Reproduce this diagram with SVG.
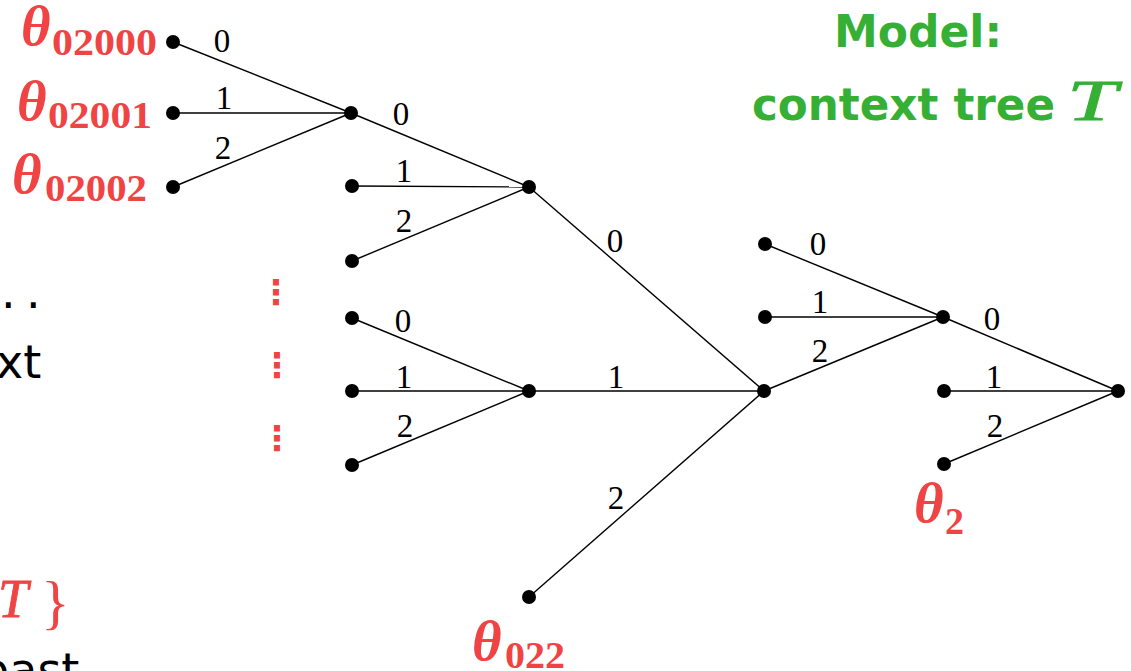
<svg xmlns="http://www.w3.org/2000/svg" width="1131" height="671" viewBox="0 0 1131 671">
<style>
.edge{stroke:#000;stroke-width:1.4;fill:none}
.dot{fill:#000}
.lbl{font-family:"Liberation Serif",serif;font-size:33px;fill:#000;text-anchor:middle}
.th{font-family:"Liberation Serif",serif;font-style:italic;font-weight:bold;font-size:57px;fill:#f04444}
.sub{font-family:"Liberation Serif",serif;font-weight:bold;font-size:38px;fill:#f04444}
.sans{font-family:"DejaVu Sans",sans-serif;font-size:46px;fill:#000}
.green{font-family:"DejaVu Sans",sans-serif;font-weight:bold;font-size:44px;fill:#35b035}
.vd{font-family:"DejaVu Sans",sans-serif;font-weight:bold;font-size:34px;fill:#f04444;text-anchor:middle}
</style>
<rect width="1131" height="671" fill="#fff"/>
<g id="connectors">
<line class="edge" x1="173" y1="42" x2="351" y2="113"/>
<line class="edge" x1="173" y1="113" x2="351" y2="113"/>
<line class="edge" x1="173" y1="187" x2="351" y2="113"/>
<line class="edge" x1="351" y1="113" x2="529" y2="187"/>
<line class="edge" x1="352" y1="186" x2="529" y2="187"/>
<line class="edge" x1="352" y1="261" x2="529" y2="187"/>
<line class="edge" x1="529" y1="187" x2="764" y2="391"/>
<line class="edge" x1="352" y1="318" x2="529" y2="391"/>
<line class="edge" x1="352" y1="391" x2="529" y2="391"/>
<line class="edge" x1="352" y1="465" x2="529" y2="391"/>
<line class="edge" x1="529" y1="391" x2="764" y2="391"/>
<line class="edge" x1="529" y1="597" x2="764" y2="391"/>
<line class="edge" x1="764" y1="391" x2="943" y2="317"/>
<line class="edge" x1="765" y1="244" x2="943" y2="317"/>
<line class="edge" x1="765" y1="317" x2="943" y2="317"/>
<line class="edge" x1="943" y1="317" x2="1118" y2="391"/>
<line class="edge" x1="944" y1="391" x2="1118" y2="391"/>
<line class="edge" x1="944" y1="464" x2="1118" y2="391"/>
<text class="lbl" x="222" y="52">0</text>
<text class="lbl" x="224" y="109">1</text>
<text class="lbl" x="223" y="159">2</text>
<text class="lbl" x="401" y="125">0</text>
<text class="lbl" x="404" y="182">1</text>
<text class="lbl" x="404" y="232">2</text>
<text class="lbl" x="615" y="252">0</text>
<text class="lbl" x="403" y="332">0</text>
<text class="lbl" x="404" y="388">1</text>
<text class="lbl" x="405" y="437">2</text>
<text class="lbl" x="616" y="388">1</text>
<text class="lbl" x="616" y="509">2</text>
<text class="lbl" x="818" y="255">0</text>
<text class="lbl" x="820" y="313">1</text>
<text class="lbl" x="820" y="362">2</text>
<text class="lbl" x="992" y="330">0</text>
<text class="lbl" x="994" y="388">1</text>
<text class="lbl" x="995" y="437">2</text>
</g>
<g id="n02000"><circle class="dot" cx="173" cy="42" r="7"/><text class="th" x="21" y="45">θ</text><text class="sub" x="52" y="55" textLength="105" lengthAdjust="spacingAndGlyphs">02000</text></g>
<g id="n02001"><circle class="dot" cx="173" cy="113" r="7"/><text class="th" x="17" y="120">θ</text><text class="sub" x="48" y="128" textLength="104" lengthAdjust="spacingAndGlyphs">02001</text></g>
<g id="n02002"><circle class="dot" cx="173" cy="187" r="7"/><text class="th" x="12" y="193">θ</text><text class="sub" x="45" y="201" textLength="102" lengthAdjust="spacingAndGlyphs">02002</text></g>
<g id="n0200"><circle class="dot" cx="351" cy="113" r="7"/></g>
<g id="n0201"><circle class="dot" cx="352" cy="186" r="7"/></g>
<g id="n0202"><circle class="dot" cx="352" cy="261" r="7"/></g>
<g id="n020"><circle class="dot" cx="529" cy="187" r="7"/></g>
<g id="n0210"><circle class="dot" cx="352" cy="318" r="7"/></g>
<g id="n0211"><circle class="dot" cx="352" cy="391" r="7"/></g>
<g id="n0212"><circle class="dot" cx="352" cy="465" r="7"/></g>
<g id="n021"><circle class="dot" cx="529" cy="391" r="7"/></g>
<g id="n022"><circle class="dot" cx="529" cy="597" r="7"/><text class="th" x="472" y="660">θ</text><text class="sub" x="505" y="668" textLength="60" lengthAdjust="spacingAndGlyphs">022</text></g>
<g id="n02"><circle class="dot" cx="764" cy="391" r="7"/></g>
<g id="n00"><circle class="dot" cx="765" cy="244" r="7"/></g>
<g id="n01"><circle class="dot" cx="765" cy="317" r="7"/></g>
<g id="n0"><circle class="dot" cx="943" cy="317" r="7"/></g>
<g id="n1"><circle class="dot" cx="944" cy="391" r="7"/></g>
<g id="n2"><circle class="dot" cx="944" cy="464" r="7"/><text class="th" x="914" y="522">θ</text><text class="sub" x="945" y="534">2</text></g>
<g id="root"><circle class="dot" cx="1118" cy="391" r="7"/></g>
<g id="vdots">
<text class="vd" x="276" y="304">⋮</text>
<text class="vd" x="277" y="377">⋮</text>
<text class="vd" x="277" y="450">⋮</text>
</g>
<g id="title">
<text class="green" x="918" y="47" text-anchor="middle">Model:</text>
<text class="green" x="752" y="120" textLength="303" lengthAdjust="spacingAndGlyphs">context tree</text>
<text x="1067" y="120" font-family="Liberation Serif,serif" font-style="italic" font-size="56" fill="#35b035" stroke="#35b035" stroke-width="0.8" textLength="50" lengthAdjust="spacingAndGlyphs">T</text>
</g>
<g id="left-text">
<text class="sans" x="1 26" y="308">..</text>
<text class="sans" x="-4" y="378">xt</text>
<text x="-2" y="617" font-family="Liberation Serif,serif" font-style="italic" font-size="54" fill="#f04444" stroke="#f04444" stroke-width="0.8">T</text>
<text x="41" y="622" font-family="Liberation Serif,serif" font-size="60" fill="#f04444">}</text>
<text class="sans" x="-20" y="686">past</text>
</g>
</svg>
